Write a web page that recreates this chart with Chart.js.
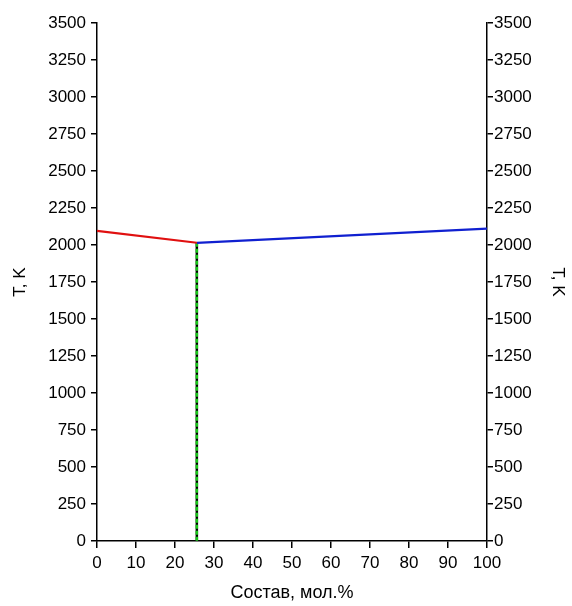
<!DOCTYPE html>
<html>
<head>
<meta charset="utf-8">
<script src="https://cdn.jsdelivr.net/npm/chart.js@4/dist/chart.umd.min.js"></script>
<style>
html,body{margin:0;padding:0;background:#fff;}
#wrap{width:572px;height:606px;}
</style>
</head>
<body>
<div id="wrap"><canvas id="c" width="572" height="606"></canvas></div>
<script>
// Data
const leftBranchX = [0, 25.6];
const leftBranchT = [2095, 2015];
const rightBranchX = [25.6, 100];
const rightBranchT = [2015, 2110];
const eutecticX = [25.6, 25.6];
const eutecticT = [2015, 0];
const xTicks = [0, 10, 20, 30, 40, 50, 60, 70, 80, 90, 100];
const yTicks = [0, 250, 500, 750, 1000, 1250, 1500, 1750, 2000, 2250, 2500, 2750, 3000, 3250, 3500];
const xTitle = 'Состав, мол.%';
const yTitle = 'T, K';

const pts = (xs, ys) => xs.map((x, i) => ({x: x, y: ys[i]}));
const FONT = '"Liberation Sans", Arial, sans-serif';
const plain = v => String(v);

function axisCommon(extra) {
  return Object.assign({
    type: 'linear',
    grid: {display: true, drawOnChartArea: false, drawTicks: true, color: '#000', lineWidth: 1.5, tickLength: 6},
    border: {display: true, color: '#000', width: 1.5}
  }, extra);
}

new Chart(document.getElementById('c'), {
  type: 'scatter',
  data: {
    datasets: [
      {data: pts(eutecticX, eutecticT), showLine: true, borderColor: '#000', borderWidth: 2.5, pointRadius: 0, order: 3},
      {data: pts(eutecticX, eutecticT), showLine: true, borderColor: '#18c818', borderWidth: 2.5, borderDash: [4, 2], pointRadius: 0, order: 2},
      {data: pts(leftBranchX, leftBranchT), showLine: true, borderColor: '#e01010', borderWidth: 2.2, pointRadius: 0, order: 1},
      {data: pts(rightBranchX, rightBranchT), showLine: true, borderColor: '#1020d0', borderWidth: 2.2, pointRadius: 0, order: 1}
    ]
  },
  options: {
    responsive: false,
    animation: false,
    events: [],
    layout: {padding: {top: 23, left: 0, right: 0, bottom: 0}},
    plugins: {legend: {display: false}, tooltip: {enabled: false}},
    scales: {
      x: axisCommon({
        position: 'bottom', min: 0, max: 100,
        afterBuildTicks: s => { s.ticks = xTicks.map(v => ({value: v})); },
        afterFit: s => { s.height = 65; },
        grid: {display: true, drawOnChartArea: false, drawTicks: true, color: '#000', lineWidth: 1.5, tickLength: 7},
        ticks: {color: '#000', font: {family: FONT, size: 17}, autoSkip: false, maxRotation: 0, padding: 5, callback: plain},
        title: {display: true, text: xTitle, color: '#000', font: {family: FONT, size: 18}, padding: {top: 4, bottom: 2}}
      }),
      y: axisCommon({
        position: 'left', min: 0, max: 3500,
        afterBuildTicks: s => { s.ticks = yTicks.map(v => ({value: v})); },
        afterFit: s => { s.width = 97; },
        ticks: {color: '#000', font: {family: FONT, size: 17}, autoSkip: false, padding: 5, callback: plain},
        title: {display: true, text: yTitle, color: '#000', font: {family: FONT, size: 17}, padding: {top: 10, bottom: 0}}
      }),
      y2: axisCommon({
        position: 'right', min: 0, max: 3500,
        afterBuildTicks: s => { s.ticks = yTicks.map(v => ({value: v})); },
        afterFit: s => { s.width = 85; },
        ticks: {color: '#000', font: {family: FONT, size: 17}, autoSkip: false, padding: 1, callback: plain},
        title: {display: true, text: yTitle, color: '#000', font: {family: FONT, size: 17}, padding: {top: 4, bottom: 0}}
      })
    }
  }
});
</script>
</body>
</html>
